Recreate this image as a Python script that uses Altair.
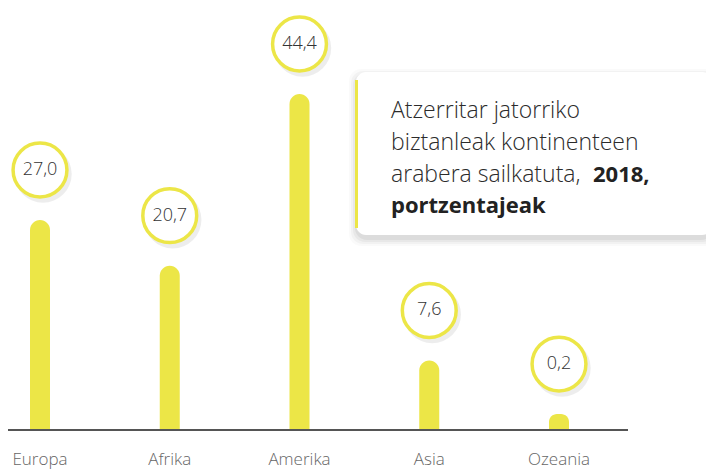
import altair as alt
import pandas as pd

categories = ["Europa", "Afrika", "Amerika", "Asia", "Ozeania"]
values = [27.0, 20.7, 44.4, 7.6, 0.2]
value_labels = ["27,0", "20,7", "44,4", "7,6", "0,2"]

title_lines = ["Atzerritar jatorriko", "biztanleak kontinenteen", "arabera sailkatuta, "]
title_bold = ["2018,", "portzentajeak"]

df = pd.DataFrame({"cat": categories, "val": values, "lab": value_labels})

YELLOW = "#ECE647"
FONT = "Open Sans"

xenc = alt.X("cat:N", scale=alt.Scale(type="point", domain=categories, range=[32, 551], padding=0), axis=None)
yscale = alt.Scale(domain=[-2, 50], range=[422, 45.5], zero=False)
yenc = alt.Y("val:Q", scale=yscale, axis=None)

base = alt.Chart(df)

bars = base.mark_bar(color=YELLOW, width=20, cornerRadiusTopLeft=10, cornerRadiusTopRight=10).encode(
    x=xenc, y=yenc, y2=alt.datum(-2)
)

axis_line = alt.Chart(alt.Data(values=[{}])).mark_rule(color="#555555", strokeWidth=2).encode(
    x=alt.value(-1), x2=alt.value(620), y=alt.value(422)
)

shadow = base.mark_point(filled=True, shape="circle", color="#000000", opacity=0.07, size=3300, xOffset=3, yOffset=-46).encode(
    x=xenc, y=yenc
)
circles = base.mark_point(filled=False, shape="circle", fill="white", fillOpacity=1, stroke=YELLOW, strokeWidth=3.5, opacity=1, size=2900, yOffset=-50).encode(
    x=xenc, y=yenc
)
labels = base.mark_text(font=FONT, fontSize=18, fontWeight=300, color="#333333", yOffset=-50, baseline="middle").encode(
    x=xenc, y=yenc, text="lab:N"
)
cat_labels = base.mark_text(font=FONT, fontSize=17, fontWeight=300, color="#666666", baseline="middle").encode(
    x=xenc, y=alt.value(452), text="cat:N"
)

one = alt.Data(values=[{}])
box_shadows = [
    alt.Chart(one).mark_rect(color="#000000", opacity=op, cornerRadius=12).encode(
        x=alt.value(348 - e), x2=alt.value(704 + e), y=alt.value(64 - e + 4), y2=alt.value(227 + e + 4)
    )
    for e, op in [(7, 0.02), (5, 0.03), (3, 0.04), (1, 0.05)]
]
box = alt.Chart(one).mark_rect(color="white", cornerRadius=10).encode(
    x=alt.value(348), x2=alt.value(704), y=alt.value(64), y2=alt.value(227)
)
strip = alt.Chart(one).mark_rect(color=YELLOW).encode(
    x=alt.value(347), x2=alt.value(350), y=alt.value(72), y2=alt.value(220)
)

ys = [110, 142, 174, 205]
text_layers = []
for i, line in enumerate(title_lines):
    text_layers.append(
        alt.Chart(one).mark_text(font=FONT, fontSize=23, fontWeight=300, color="#2b2b2b", align="left", baseline="alphabetic", text=line).encode(
            x=alt.value(383), y=alt.value(ys[i])
        )
    )
text_layers.append(
    alt.Chart(one).mark_text(font=FONT, fontSize=22, fontWeight="bold", color="#222222", align="left", baseline="alphabetic", text=title_bold[0]).encode(
        x=alt.value(585), y=alt.value(ys[2])
    )
)
text_layers.append(
    alt.Chart(one).mark_text(font=FONT, fontSize=22, fontWeight="bold", color="#222222", align="left", baseline="alphabetic", text=title_bold[1]).encode(
        x=alt.value(383), y=alt.value(ys[3])
    )
)

chart = alt.layer(
    bars, axis_line, shadow, circles, labels, cat_labels, *box_shadows, box, strip, *text_layers
).properties(
    width=698, height=462, padding=0, autosize=alt.AutoSizeParams(type="none"), background="white"
).configure_view(stroke=None)

chart.save("out.html", embed_options={"renderer": "svg", "actions": False})
